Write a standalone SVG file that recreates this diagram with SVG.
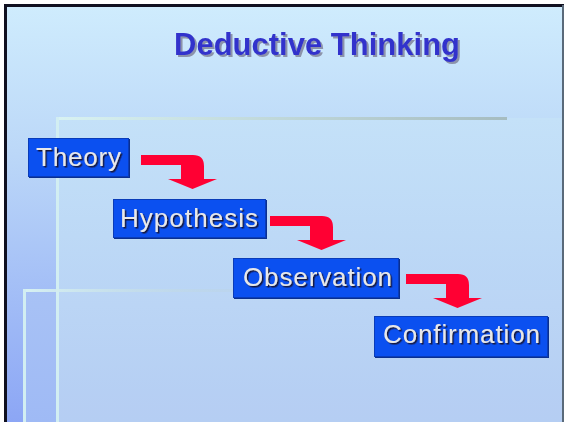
<svg xmlns="http://www.w3.org/2000/svg" width="565" height="422" viewBox="0 0 565 422">
<style>
.box{fill:#0b50f0;stroke:#0a3cb8;stroke-width:1}
.boxsh{fill:#0a2f90}
.lbl{font-family:"Liberation Sans",Arial,sans-serif;font-size:26px;fill:#e8e8ea;filter:url(#lblshadow)}
.title{font-family:"Liberation Sans",Arial,sans-serif;font-size:31px;font-weight:bold;fill:#3333cc;filter:url(#titleshadow)}
.arr{fill:#ff0033}
</style>
<defs>
<filter id="titleshadow" x="-5%" y="-20%" width="115%" height="150%">
<feDropShadow dx="2" dy="2" stdDeviation="0.4" flood-color="#8c93aa" flood-opacity="1"/>
</filter>
<filter id="lblshadow" x="-5%" y="-20%" width="115%" height="150%">
<feDropShadow dx="1.5" dy="1.5" stdDeviation="0" flood-color="#14163a" flood-opacity="1"/>
</filter>
<linearGradient id="bg" x1="0" y1="0" x2="0" y2="1">
<stop offset="0" stop-color="#cfecfd"/>
<stop offset="0.35" stop-color="#bcd8f8"/>
<stop offset="1" stop-color="#8ca6f5"/>
</linearGradient>
<linearGradient id="regA" gradientUnits="userSpaceOnUse" x1="0" y1="118" x2="0" y2="422">
<stop offset="0" stop-color="#c4e1f8"/>
<stop offset="1" stop-color="#b2ccf3"/>
</linearGradient>
<linearGradient id="regB" gradientUnits="userSpaceOnUse" x1="0" y1="290" x2="0" y2="422">
<stop offset="0" stop-color="#a8c2f5"/>
<stop offset="1" stop-color="#9fbaf5"/>
</linearGradient>
<linearGradient id="line1" gradientUnits="userSpaceOnUse" x1="57" y1="0" x2="507" y2="0">
<stop offset="0" stop-color="#d8f2f2"/>
<stop offset="1" stop-color="#a6bcc0"/>
</linearGradient>
<linearGradient id="line2" gradientUnits="userSpaceOnUse" x1="24" y1="0" x2="250" y2="0">
<stop offset="0" stop-color="#d8f2f2"/>
<stop offset="1" stop-color="#b8cfd8" stop-opacity="0.2"/>
</linearGradient>
<path id="arrow" class="arr" d="M0,0 L52,0 Q63,0 63,11 L63,24 L76,24 L51.5,34 L27,24 L40,24 L40,10 L0,10 Z"/>
</defs>

<g id="background">
<rect x="0" y="0" width="565" height="422" fill="#ffffff"/>
<rect x="5" y="5" width="558" height="417" fill="url(#bg)"/>
<rect x="57" y="118" width="506" height="304" fill="url(#regA)"/>
<rect x="24" y="290" width="33" height="132" fill="url(#regB)"/>
<rect x="57" y="290" width="506" height="132" fill="#ffffff" fill-opacity="0.04"/>
<rect x="57" y="117" width="450" height="3" fill="url(#line1)"/>
<rect x="56" y="117" width="3" height="305" fill="#d2eef2"/>
<rect x="24" y="289" width="226" height="3" fill="url(#line2)"/>
<rect x="23" y="289" width="3" height="133" fill="#d2eef2"/>
<rect x="4" y="4" width="3" height="418" fill="#101020"/>
<rect x="4" y="4" width="560" height="3" fill="#101020"/>
<rect x="562" y="5" width="2" height="417" fill="#5a6a7a"/>
</g>

<g id="title">
<text class="title" x="174" y="55" textLength="286">Deductive Thinking</text>
</g>

<g id="connectors">
<use href="#arrow" x="141" y="155"/>
<use href="#arrow" x="270" y="216"/>
<use href="#arrow" x="406" y="274"/>
</g>

<g id="node-theory">
<rect class="boxsh" x="29" y="139" width="101" height="39"/>
<rect class="box" x="28.5" y="138.5" width="100" height="38"/>
<text class="lbl" x="36" y="166" textLength="85">Theory</text>
</g>

<g id="node-hypothesis">
<rect class="boxsh" x="114" y="200" width="153" height="39"/>
<rect class="box" x="113.5" y="199.5" width="152" height="38"/>
<text class="lbl" x="120" y="227" textLength="138">Hypothesis</text>
</g>

<g id="node-observation">
<rect class="boxsh" x="234" y="259" width="166" height="40"/>
<rect class="box" x="233.5" y="258.5" width="165" height="39"/>
<text class="lbl" x="243" y="286" textLength="149">Observation</text>
</g>

<g id="node-confirmation">
<rect class="boxsh" x="375" y="317" width="174" height="41"/>
<rect class="box" x="374.5" y="316.5" width="173" height="40"/>
<text class="lbl" x="383" y="343" textLength="157">Confirmation</text>
</g>
</svg>
